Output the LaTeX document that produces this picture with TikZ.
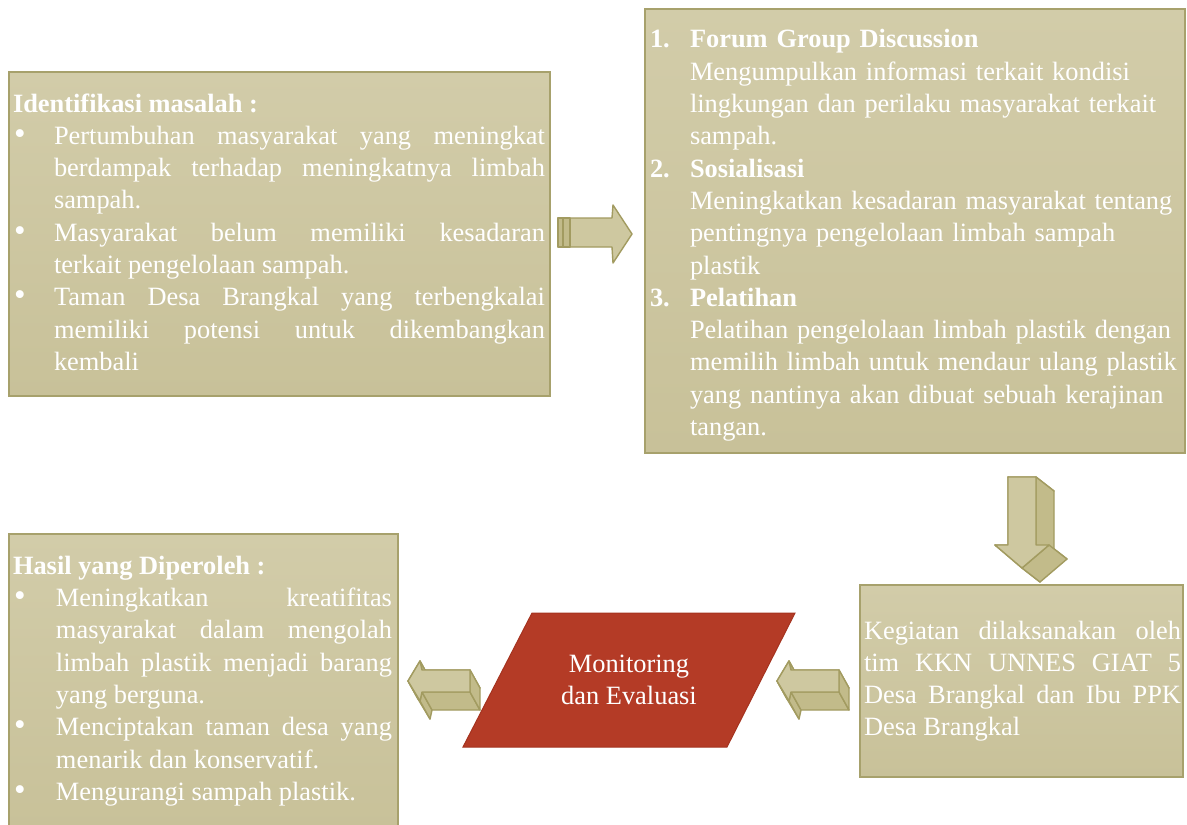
\documentclass[tikz,border=0pt]{standalone}
\usepackage{fontspec}
\setmainfont{Liberation Serif}
\usetikzlibrary{calc}
\definecolor{boxtop}{HTML}{D2CCA9}
\definecolor{boxbot}{HTML}{C8C199}
\definecolor{boxline}{HTML}{A7A16C}
\definecolor{arrfront}{HTML}{CEC8A0}
\definecolor{arrside}{HTML}{C2BB8A}
\definecolor{arrline}{HTML}{A29B60}
\definecolor{redfill}{HTML}{B43B26}
\definecolor{redline}{HTML}{A5331F}
\newcommand\boxfont{\fontsize{26.4}{32.3}\selectfont}
\newcommand\bitem[2]{\par\noindent\strut\hangindent=#1\hangafter=1\makebox[#1][l]{\hspace{1pt}\scalebox{1.25}{\textbullet}}#2}
\newcommand\nitem[3]{\par\noindent\strut\hangindent=#1\hangafter=1\makebox[#1][l]{\textbf{#2}}#3}
\newcommand\jst{\tolerance=10000\hbadness=10000\leftskip=0pt\rightskip=0pt\parfillskip=0pt plus 1fil\relax}
% point and its extruded copy: name, base, dx, dy, Dx, Dy
\newcommand\mkpt[6]{\coordinate (#1) at ($(#2)+(#3,#4)$); \coordinate (#1d) at ($(#2)+(#3+#5,#4+#6)$);}
\newcommand\face[3]{\draw[#1] (#2) -- (#3) -- (#3d) -- (#2d) -- cycle;}
\tikzset{
  box/.style={draw=boxline, line width=2.5pt, top color=boxtop, bottom color=boxbot},
  txt/.style={anchor=north west, inner sep=0pt, outer sep=0pt, text=white, font=\boxfont, text width=#1},
  front/.style={fill=arrfront, draw=arrline, line width=1.4pt, line join=round},
  side/.style={fill=arrside, draw=arrline, line width=1.4pt, line join=round},
}
\begin{document}
\begin{tikzpicture}[x=1pt,y=-1pt]
\useasboundingbox (0,0) rectangle (1187,825);
\fill[white] (0,0) rectangle (1187,825);
\coordinate (o) at (0,0);

% ---------- boxes ----------
\draw[box] (9,72) rectangle (550,396);
\node[txt=532pt, align=justify] (t1) at (13,89.4) {\jst\strut\textbf{Identifikasi masalah :}
\bitem{41pt}{Pertumbuhan masyarakat yang meningkat\linebreak berdampak terhadap meningkatnya limbah\linebreak sampah.}
\bitem{41pt}{Masyarakat belum memiliki kesadaran\linebreak terkait pengelolaan sampah.}
\bitem{41pt}{Taman Desa Brangkal yang terbengkalai\linebreak memiliki potensi untuk dikembangkan\linebreak kembali}\par};

\draw[box] (645,9) rectangle (1185,453);
\node[txt=532pt, align=left] (t2) at (650,15.6) {\raggedright
\nitem{40pt}{1.}{\textbf{Forum Group Discussion}\newline Mengumpulkan informasi terkait kondisi\newline lingkungan dan perilaku masyarakat terkait\newline sampah.}
\nitem{40pt}{2.}{\textbf{Sosialisasi}\newline Meningkatkan kesadaran masyarakat tentang\newline pentingnya pengelolaan limbah sampah\newline plastik}
\nitem{40pt}{3.}{\textbf{Pelatihan}\newline Pelatihan pengelolaan limbah plastik dengan\newline memilih limbah untuk mendaur ulang plastik\newline yang nantinya akan dibuat sebuah kerajinan\newline tangan.}\par};

\draw[box] (9,534) rectangle (398,830);
\node[txt=379pt, align=justify] (t3) at (13,551.6) {\jst\strut\textbf{Hasil yang Diperoleh :}
\bitem{43pt}{Meningkatkan kreatifitas\linebreak masyarakat dalam mengolah\linebreak limbah plastik menjadi barang\linebreak yang berguna.}
\bitem{43pt}{Menciptakan taman desa yang\linebreak menarik dan konservatif.}
\bitem{43pt}{Mengurangi sampah plastik.}\par};

\draw[box] (860,585) rectangle (1183,777);
\node[txt=317pt, align=justify] (t4) at (864,616.4) {\jst\strut Kegiatan dilaksanakan oleh\linebreak tim KKN UNNES GIAT 5\linebreak Desa Brangkal dan Ibu PPK\linebreak Desa Brangkal\par};

% ---------- parallelogram ----------
\coordinate (pa) at (532,613);
\coordinate (pb) at (795,613);
\coordinate (pc) at (727,747);
\coordinate (pd) at (463,747);
\draw[fill=redfill, draw=redline, line width=1pt] (pa) -- (pb) -- (pc) -- (pd) -- cycle;
\node[text=white, align=center, font=\fontsize{26.4}{32}\selectfont, inner sep=0pt] (mon) at (629,680) {Monitoring\\dan Evaluasi};

% ---------- right arrow (box1 -> box2) ----------
\draw[front] (558,218) -- (612,218) -- (613,205) -- (632,234) -- (613,263) -- (612,247) -- (558,247) -- cycle;
\draw[side] (558,218) rectangle (570,247);
\draw[arrline, line width=1.2pt] (563,218) -- (563,247);

% ---------- down arrow (box2 -> box4) ----------
\mkpt{p1}{o}{1008}{477}{18}{14}
\mkpt{p2}{o}{1036}{477}{18}{14}
\mkpt{p3}{o}{1036}{545}{18}{14}
\mkpt{p4}{o}{1049}{545}{18}{14}
\mkpt{p5}{o}{1022}{568}{18}{14}
\mkpt{p6}{o}{995}{545}{18}{14}
\mkpt{p7}{o}{1008}{545}{18}{14}
\face{side}{p1}{p2}
\face{side}{p3}{p4}
\face{side}{p5}{p6}
\face{side}{p6}{p7}
\face{side}{p7}{p1}
\face{side}{p2}{p3}
\face{side}{p4}{p5}
\draw[front] (p1) -- (p2) -- (p3) -- (p4) -- (p5) -- (p6) -- (p7) -- cycle;

% ---------- left arrows ----------
\coordinate (la) at (408,681);
\coordinate (lb) at (777,681);
\foreach \t in {la,lb}{
  \mkpt{\t A}{\t}{0}{0}{10}{18}
  \mkpt{\t B}{\t}{12}{-20}{10}{18}
  \mkpt{\t C}{\t}{14}{-11}{10}{18}
  \mkpt{\t D}{\t}{62}{-11}{10}{18}
  \mkpt{\t E}{\t}{62}{11}{10}{18}
  \mkpt{\t G}{\t}{14}{11}{10}{18}
  \mkpt{\t H}{\t}{12}{20}{10}{18}
  \face{side}{\t A}{\t B}
  \face{side}{\t C}{\t D}
  \face{side}{\t B}{\t C}
  \face{side}{\t H}{\t A}
  \face{side}{\t G}{\t H}
  \face{side}{\t E}{\t G}
  \face{side}{\t D}{\t E}
  \draw[front] (\t A) -- (\t B) -- (\t C) -- (\t D) -- (\t E) -- (\t G) -- (\t H) -- cycle;
}

\end{tikzpicture}
\end{document}
